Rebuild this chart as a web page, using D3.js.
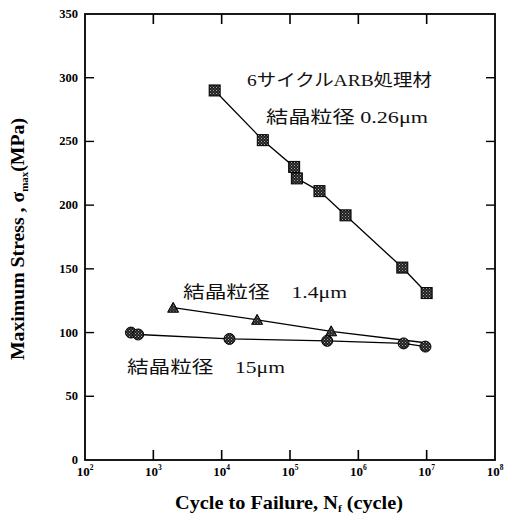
<!DOCTYPE html>
<html><head><meta charset="utf-8">
<script src="https://cdn.jsdelivr.net/npm/d3@7"></script>
<style>
html,body{margin:0;padding:0;background:#fff;}
svg{display:block;}
</style></head>
<body>
<svg id="c" width="507" height="515"></svg>
<script>
// ---- data ----
const squareN = [7.9e3, 4.0e4, 1.15e5, 1.26e5, 2.7e5, 6.5e5, 4.4e6, 1.0e7];
const squareS = [290, 251, 230, 221, 211, 192, 151, 131];
const triN = [1.95e3, 3.3e4, 4.0e5, 9.6e6];
const triS = [119.5, 110, 101, 92];
const circN = [4.7e2, 6.0e2, 1.3e4, 3.5e5, 4.6e6, 9.6e6];
const circS = [100, 98.5, 95, 93.5, 91.5, 89];
const xTickExp = [2, 3, 4, 5, 6, 7, 8];
const yTicks = [0, 50, 100, 150, 200, 250, 300, 350];
const labels = ["6サイクルARB処理材", "結晶粒径 0.26μm", "結晶粒径　1.4μm", "結晶粒径　15μm"];

const svg = d3.select("#c");
const L = 85, R = 495, T = 14, B = 460;
const x = d3.scaleLog().domain([1e2, 1e8]).range([L, R]);
const y = d3.scaleLinear().domain([0, 350]).range([B, T]);
const serif = "'Liberation Serif','DejaVu Serif',serif";
const jp = "'Liberation Serif','Noto Sans CJK JP',serif";

// pattern for markers
const defs = svg.append("defs");
const pat = defs.append("pattern").attr("id", "dots").attr("patternUnits", "userSpaceOnUse")
  .attr("width", 3).attr("height", 3);
pat.append("rect").attr("width", 3).attr("height", 3).attr("fill", "#1e1e1e");
pat.append("rect").attr("x", 0).attr("y", 0).attr("width", 1).attr("height", 1).attr("fill", "#aaa");
pat.append("rect").attr("x", 1.5).attr("y", 1.5).attr("width", 1).attr("height", 1).attr("fill", "#888");

// axes
const tv = xTickExp.map(e => Math.pow(10, e));
const g = svg.append("g").attr("stroke", "#000").attr("fill", "none");
g.append("rect").attr("x", L).attr("y", T).attr("width", R - L).attr("height", B - T).attr("stroke-width", 1.8);
const inner = tv.slice(1, -1);
g.selectAll(".bt").data(inner).join("line")
  .attr("x1", d => x(d)).attr("x2", d => x(d)).attr("y1", B).attr("y2", B - 10).attr("stroke-width", 1.6);
g.selectAll(".tt").data(inner).join("line")
  .attr("x1", d => x(d)).attr("x2", d => x(d)).attr("y1", T).attr("y2", T + 10).attr("stroke-width", 1.6);
const yin = yTicks.slice(1, -1);
g.selectAll(".lt").data(yin).join("line")
  .attr("x1", L).attr("x2", L + 9).attr("y1", d => y(d)).attr("y2", d => y(d)).attr("stroke-width", 1.4);
g.selectAll(".rt").data(yin).join("line")
  .attr("x1", R).attr("x2", R - 9).attr("y1", d => y(d)).attr("y2", d => y(d)).attr("stroke-width", 1.4);

// y tick labels
svg.selectAll(".yl").data(yTicks).join("text")
  .attr("x", 78).attr("y", d => y(d) + 4)
  .attr("text-anchor", "end").attr("font-family", serif).attr("font-weight", "bold")
  .attr("font-size", 12.5).text(d => d);

// x tick labels
const xl = svg.selectAll(".xl").data(xTickExp).join("text")
  .attr("x", d => x(Math.pow(10, d))).attr("y", 476)
  .attr("text-anchor", "middle").attr("font-family", serif).attr("font-weight", "bold")
  .attr("font-size", 13);
xl.append("tspan").text("10");
xl.append("tspan").attr("dy", -6).attr("font-size", 7.5).text(d => d);

// axis titles
const xt = svg.append("text").attr("x", 175).attr("y", 509)
  .attr("font-family", serif).attr("font-weight", "bold").attr("font-size", 18)
  .attr("textLength", 228).attr("lengthAdjust", "spacingAndGlyphs");
xt.append("tspan").text("Cycle  to  Failure, N");
xt.append("tspan").attr("dy", 3).attr("font-size", 10).text("f");
xt.append("tspan").attr("dy", -3).text(" (cycle)");

const yt = svg.append("text").attr("transform", "translate(24,239) rotate(-90)").attr("x", -121)
  .attr("font-family", serif).attr("font-weight", "bold").attr("font-size", 18)
  .attr("textLength", 242).attr("lengthAdjust", "spacingAndGlyphs");
yt.append("tspan").text("Maximum Stress , σ");
yt.append("tspan").attr("dy", 4).attr("font-size", 10).text("max");
yt.append("tspan").attr("dy", -4).text("(MPa)");

// lines
const line = d3.line().x(d => x(d[0])).y(d => y(d[1]));
const sq = squareN.map((n, i) => [n, squareS[i]]);
const tr = triN.map((n, i) => [n, triS[i]]);
const ci = circN.map((n, i) => [n, circS[i]]);
[sq, tr, ci].forEach(d => svg.append("path").attr("d", line(d)).attr("fill", "none")
  .attr("stroke", "#000").attr("stroke-width", 1.3));

// markers
svg.selectAll(".sq").data(sq).join("rect")
  .attr("x", d => x(d[0]) - 5.5).attr("y", d => y(d[1]) - 5.5).attr("width", 11).attr("height", 11)
  .attr("fill", "url(#dots)").attr("stroke", "#000").attr("stroke-width", 1);
svg.selectAll(".ci").data(ci).join("circle")
  .attr("cx", d => x(d[0])).attr("cy", d => y(d[1])).attr("r", 5.5)
  .attr("fill", "url(#dots)").attr("stroke", "#000").attr("stroke-width", 1);
svg.selectAll(".tr").data(tr.slice(0, 3)).join("path")
  .attr("transform", d => `translate(${x(d[0])},${y(d[1])})`)
  .attr("d", "M0,-5.5L5.5,4.5L-5.5,4.5Z")
  .attr("fill", "url(#dots)").attr("stroke", "#000").attr("stroke-width", 1);

// annotations
const ann = [[247, 86, 185], [266, 123, 162], [183, 298, 164], [127, 373, 158]];
svg.selectAll(".an").data(labels).join("text")
  .attr("x", (d, i) => ann[i][0]).attr("y", (d, i) => ann[i][1])
  .attr("textLength", (d, i) => ann[i][2]).attr("lengthAdjust", "spacingAndGlyphs")
  .attr("font-family", jp).attr("font-size", 17).attr("fill", "#111")
  .text(d => d);
</script>
</body></html>
